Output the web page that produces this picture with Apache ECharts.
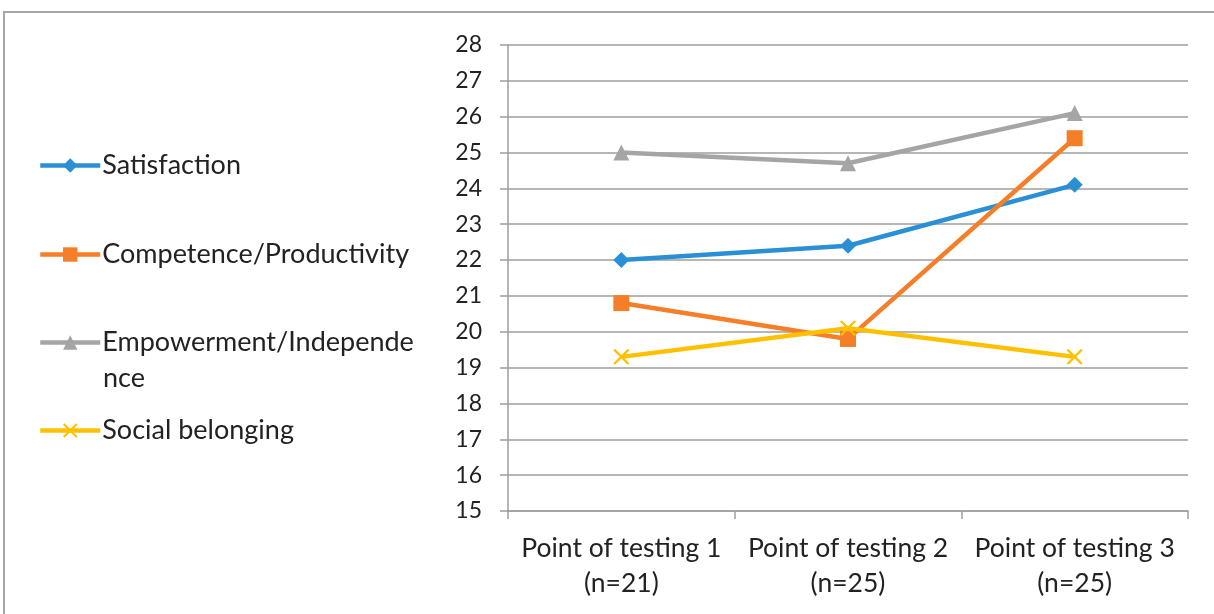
<!DOCTYPE html>
<html>
<head>
<meta charset="utf-8">
<script src="https://cdn.jsdelivr.net/npm/echarts@6/dist/echarts.min.js"></script>
<style>
  html, body { margin: 0; padding: 0; background: #fff; }
  #chart { width: 1214px; height: 614px; }
</style>
</head>
<body>
<div id="chart"></div>
<script>
// categories (x axis)
var categories = ['Point of testing 1\n(n=21)', 'Point of testing 2\n(n=25)', 'Point of testing 3\n(n=25)'];
// series values
var satisfaction = [22.0, 22.4, 24.1];
var competence = [20.8, 19.8, 25.4];
var empowerment = [25.0, 24.7, 26.1];
var socialBelonging = [19.3, 20.1, 19.3];
var seriesNames = ['Satisfaction', 'Competence/Productivity', 'Empowerment/Independence', 'Social belonging'];
// y axis
var yMin = 15, yMax = 28, yStep = 1;

var colors = ['#2B8FD5', '#F57E29', '#A5A5A5', '#FFC000'];
var fontName = 'Lato, "Noto Sans", sans-serif';
var crossPath = 'path://M0,1L1,0L5,4L9,0L10,1L6,5L10,9L9,10L5,6L1,10L0,9L4,5Z';

var myChart = echarts.init(document.getElementById('chart'));

function makeSeries(name, data, color, symbol, size) {
    return {
        name: name,
        type: 'line',
        data: data,
        symbol: symbol,
        symbolSize: size,
        lineStyle: { color: color, width: 4.5 },
        itemStyle: { color: color },
        animation: false
    };
}

// one legend per item so the spacing matches the picture
var legendTops = [152, 241, 329, 417];
var legends = seriesNames.map(function (n, i) {
    return {
        data: [n],
        left: 38,
        top: legendTops[i],
        padding: 0,
        orient: 'vertical',
        itemWidth: 60,
        itemHeight: 18,
        selectedMode: false,
        lineStyle: { width: 4.5 },
        formatter: function (name) {
            // the long label wraps in the original; second half drawn below
            return name === 'Empowerment/Independence' ? 'Empowerment/Independe' : name;
        },
        textStyle: { fontFamily: fontName, fontSize: 27, color: '#222', padding: [0, 0, 0, -3] }
    };
});

var option = {
    backgroundColor: '#fff',
    color: colors,
    legend: legends,
    grid: { left: 508, right: 26, top: 45, bottom: 103 },
    graphic: [
        {
            type: 'rect',
            shape: { x: 4, y: 12, width: 1240, height: 700 },
            style: { fill: 'none', stroke: '#A6A6A6', lineWidth: 2 },
            silent: true
        },
        {
            type: 'text',
            left: 103,
            top: 365,
            style: { text: 'nce', font: '27px ' + fontName, fill: '#222' }
        }
    ],
    xAxis: {
        type: 'category',
        data: categories,
        boundaryGap: true,
        axisLine: { lineStyle: { color: '#9E9E9E', width: 1.5 } },
        axisTick: { show: true, length: 8, lineStyle: { color: '#9E9E9E', width: 1.5 } },
        axisLabel: {
            interval: 0,
            hideOverlap: false,
            fontFamily: fontName, fontSize: 26.5, color: '#222', lineHeight: 35, margin: 20
        }
    },
    yAxis: {
        type: 'value',
        min: yMin,
        max: yMax,
        interval: yStep,
        axisLine: { show: true, lineStyle: { color: '#9E9E9E', width: 1.5 } },
        axisTick: { show: true, length: 8, lineStyle: { color: '#9E9E9E', width: 1.5 } },
        axisLabel: { fontFamily: fontName, fontSize: 23, color: '#222', margin: 26 },
        splitLine: { lineStyle: { color: '#9E9E9E', width: 1.5 } }
    },
    series: [
        makeSeries(seriesNames[0], satisfaction, colors[0], 'diamond', 16),
        makeSeries(seriesNames[1], competence, colors[1], 'rect', 16),
        makeSeries(seriesNames[2], empowerment, colors[2], 'triangle', 16),
        makeSeries(seriesNames[3], socialBelonging, colors[3], crossPath, 16)
    ]
};

myChart.setOption(option);
</script>
</body>
</html>
